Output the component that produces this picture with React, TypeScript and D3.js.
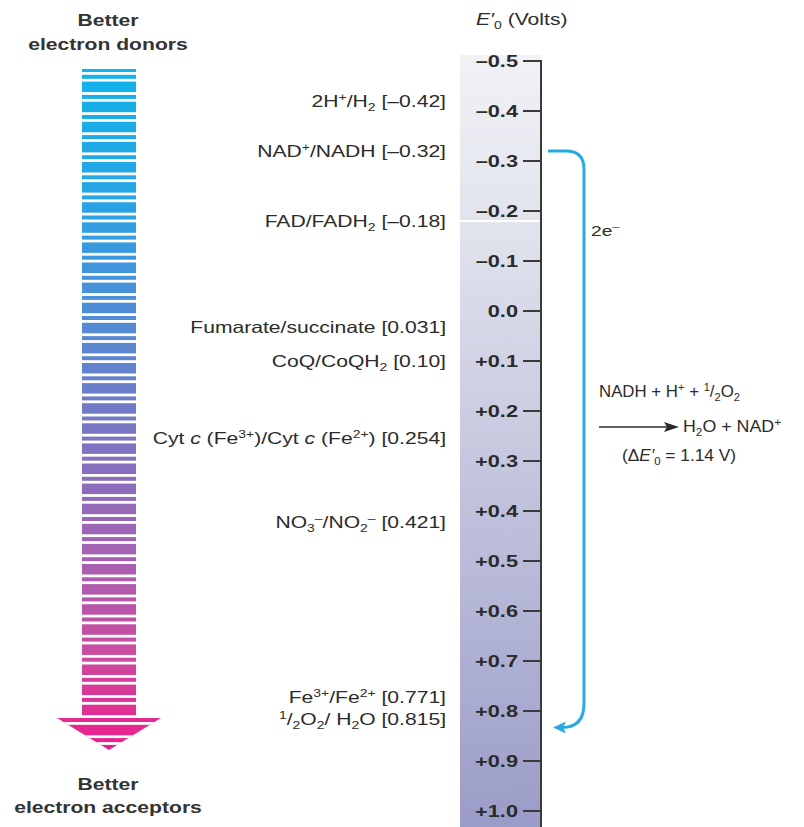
import React from 'react';
import * as d3 from 'd3';

type Seg = { t: string; k?: 'sub' | 'sup' | 'it' };

// redox couples and their standard reduction potentials (volts)
const couples: Seg[][] = [
  [{ t: '2H' }, { t: '+', k: 'sup' }, { t: '/H' }, { t: '2', k: 'sub' }, { t: ' [–0.42]' }],
  [{ t: 'NAD' }, { t: '+', k: 'sup' }, { t: '/NADH [–0.32]' }],
  [{ t: 'FAD/FADH' }, { t: '2', k: 'sub' }, { t: ' [–0.18]' }],
  [{ t: 'Fumarate/succinate [0.031]' }],
  [{ t: 'CoQ/CoQH' }, { t: '2', k: 'sub' }, { t: ' [0.10]' }],
  [
    { t: 'Cyt ' }, { t: 'c', k: 'it' }, { t: ' (Fe' }, { t: '3+', k: 'sup' }, { t: ')/Cyt ' },
    { t: 'c', k: 'it' }, { t: ' (Fe' }, { t: '2+', k: 'sup' }, { t: ') [0.254]' },
  ],
  [{ t: 'NO' }, { t: '3', k: 'sub' }, { t: '–', k: 'sup' }, { t: '/NO' }, { t: '2', k: 'sub' }, { t: '–', k: 'sup' }, { t: ' [0.421]' }],
  [{ t: 'Fe' }, { t: '3+', k: 'sup' }, { t: '/Fe' }, { t: '2+', k: 'sup' }, { t: ' [0.771]' }],
  [{ t: '1', k: 'sup' }, { t: '/' }, { t: '2', k: 'sub' }, { t: 'O' }, { t: '2', k: 'sub' }, { t: '/ H' }, { t: '2', k: 'sub' }, { t: 'O [0.815]' }],
];
const potentials = [-0.42, -0.32, -0.18, 0.031, 0.1, 0.254, 0.421, 0.771, 0.815];

const tickValues = [-0.5, -0.4, -0.3, -0.2, -0.1, 0, 0.1, 0.2, 0.3, 0.4, 0.5, 0.6, 0.7, 0.8, 0.9, 1.0];

// electrons travel from NAD+/NADH down to 1/2 O2/H2O
const donorIndex = 1;
const acceptorIndex = 8;

const axisTitle: Seg[] = [{ t: 'E′', k: 'it' }, { t: '0', k: 'sub' }, { t: ' (Volts)' }];
const reactionTop: Seg[] = [{ t: 'NADH + H' }, { t: '+', k: 'sup' }, { t: ' + ' }, { t: '1', k: 'sup' }, { t: '/' }, { t: '2', k: 'sub' }, { t: 'O' }, { t: '2', k: 'sub' }];
const reactionMid: Seg[] = [{ t: 'H' }, { t: '2', k: 'sub' }, { t: 'O + NAD' }, { t: '+', k: 'sup' }];
const reactionDelta: Seg[] = [{ t: '(Δ' }, { t: 'E′', k: 'it' }, { t: '0', k: 'sub' }, { t: ' = 1.14 V)' }];

// stripe rhythm of the gradient arrow (thin, thick)
const stripeRhythm = [4, 10.5];

const FONT = '"Liberation Sans", Arial, Helvetica, sans-serif';
const INK = '#2b2b2b';
const SX = 1.28;

function Rich({ segs }: { segs: Seg[] }) {
  let cur = 0;
  return (
    <>
      {segs.map((s, i) => {
        const small = s.k === 'sub' || s.k === 'sup';
        const target = s.k === 'sub' ? 4 : s.k === 'sup' ? -6 : 0;
        const dy = target - cur;
        cur = target;
        return (
          <tspan
            key={i}
            dy={dy !== 0 ? dy : undefined}
            fontSize={small ? '0.66em' : undefined}
            fontStyle={s.k === 'it' ? 'italic' : undefined}
          >
            {s.t}
          </tspan>
        );
      })}
    </>
  );
}

export default function App() {
  const width = 804;
  const height = 827;

  const y = d3.scaleLinear().domain([-0.5, 1.0]).range([61, 811]);

  const axisX = 541;
  const bandLeft = 460;

  // left gradient arrow geometry
  const shaftL = 82, shaftR = 136, shaftTop = 69, headTop = 718, tipY = 750;
  const headL = 57, headR = 161, cx = (shaftL + shaftR) / 2;
  const arrowShape = `M${shaftL},${shaftTop}H${shaftR}V${headTop}H${headR}L${cx},${tipY}L${headL},${headTop}H${shaftL}Z`;

  const gaps: number[] = [];
  {
    let pos = shaftTop + 3;
    let i = 0;
    while (pos < tipY) {
      gaps.push(pos);
      pos += 2.8 + stripeRhythm[i % 2];
      i++;
    }
  }

  const fmt = (v: number) =>
    v === 0 ? '0.0' : v < 0 ? `–${Math.abs(v).toFixed(1)}` : `+${v.toFixed(1)}`;

  // blue bracket from donor to acceptor
  const y0 = y(potentials[donorIndex]);
  const y1 = y(potentials[acceptorIndex]) + 9;
  const bx = 584;
  const bracket = `M548,${y0}H${bx - 18}Q${bx},${y0} ${bx},${y0 + 18}V${y1 - 24}Q${bx},${y1} ${562},${y1}`;

  return (
    <svg
      width={width}
      height={height}
      style={{ position: 'absolute', left: 0, top: 0, background: '#fff' }}
      fontFamily={FONT}
    >
      <defs>
        <linearGradient id="arrowGrad" x1="0" y1={shaftTop} x2="0" y2={tipY} gradientUnits="userSpaceOnUse">
          <stop offset="0" stopColor="#10b3ea" />
          <stop offset="0.19" stopColor="#27a4e4" />
          <stop offset="0.34" stopColor="#4b8fd8" />
          <stop offset="0.51" stopColor="#7379c6" />
          <stop offset="0.7" stopColor="#a263b3" />
          <stop offset="0.86" stopColor="#cb4ba1" />
          <stop offset="1" stopColor="#ee1d8b" />
        </linearGradient>
        <linearGradient id="bandGrad" x1="0" y1="55" x2="0" y2={height} gradientUnits="userSpaceOnUse">
          <stop offset="0" stopColor="#f1f2f6" />
          <stop offset="0.2" stopColor="#e3e5ee" />
          <stop offset="1" stopColor="#9a9cc8" />
        </linearGradient>
        <clipPath id="arrowClip">
          <path d={arrowShape} />
        </clipPath>
      </defs>

      {/* gradient arrow */}
      <path d={arrowShape} fill="url(#arrowGrad)" />
      <g clipPath="url(#arrowClip)">
        {gaps.map((g, i) => (
          <rect key={i} x={headL - 2} y={g} width={headR - headL + 4} height={2.8} fill="#fff" />
        ))}
      </g>

      {/* arrow titles */}
      {[
        ['Better', 26],
        ['electron donors', 50],
        ['Better', 790],
        ['electron acceptors', 813],
      ].map(([t, yy], i) => (
        <text
          key={i}
          transform={`translate(${cx - 1},${yy}) scale(${SX},1)`}
          textAnchor="middle"
          fontSize={16.5}
          fontWeight="bold"
          fill="#333"
        >
          {t}
        </text>
      ))}

      {/* potential band */}
      <rect x={bandLeft} y={55} width={axisX - bandLeft} height={height - 55} fill="url(#bandGrad)" />
      <rect x={bandLeft} y={y(-0.18) - 1} width={axisX - bandLeft} height={2} fill="#fff" />

      {/* axis */}
      <line x1={axisX} x2={axisX} y1={y(-0.5) - 1} y2={height} stroke="#3a3a3a" strokeWidth={2} />
      {tickValues.map((v) => (
        <g key={v}>
          <line x1={523} x2={axisX} y1={y(v)} y2={y(v)} stroke="#3a3a3a" strokeWidth={2} />
          <text
            transform={`translate(518,${y(v) + 6}) scale(${SX},1)`}
            textAnchor="end"
            fontSize={17}
            fontWeight="bold"
            fill={INK}
          >
            {fmt(v)}
          </text>
        </g>
      ))}

      {/* axis title */}
      <text transform={`translate(476,25) scale(${SX},1)`} fontSize={16.5} fill={INK} style={{ whiteSpace: 'pre' }}>
        <Rich segs={axisTitle} />
      </text>

      {/* couple labels */}
      {couples.map((segs, i) => (
        <text
          key={i}
          transform={`translate(446,${y(potentials[i]) + 6}) scale(${SX},1)`}
          textAnchor="end"
          fontSize={16.5}
          fill={INK}
          style={{ whiteSpace: 'pre' }}
        >
          <Rich segs={segs} />
        </text>
      ))}

      {/* electron transfer bracket */}
      <path d={bracket} fill="none" stroke="#27aae2" strokeWidth={3} />
      <path d={`M553,${y1}L566,${y1 - 6}L563,${y1}L566,${y1 + 6}Z`} fill="#27aae2" />

      <text transform={`translate(591,236) scale(${SX},1)`} fontSize={15} fill={INK} style={{ whiteSpace: 'pre' }}>
        <Rich segs={[{ t: '2e' }, { t: '–', k: 'sup' }]} />
      </text>

      {/* reaction */}
      <text transform="translate(599,397) scale(1.02,1)" fontSize={16.5} fill={INK} style={{ whiteSpace: 'pre' }}>
        <Rich segs={reactionTop} />
      </text>
      <line x1={599} x2={668} y1={427} y2={427} stroke={INK} strokeWidth={1.6} />
      <path d="M679,427L664,422L667,427L664,432Z" fill={INK} />
      <text transform="translate(683,432) scale(1.08,1)" fontSize={16.5} fill={INK} style={{ whiteSpace: 'pre' }}>
        <Rich segs={reactionMid} />
      </text>
      <text transform="translate(622,461) scale(1.05,1)" fontSize={16.5} fill={INK} style={{ whiteSpace: 'pre' }}>
        <Rich segs={reactionDelta} />
      </text>
    </svg>
  );
}
